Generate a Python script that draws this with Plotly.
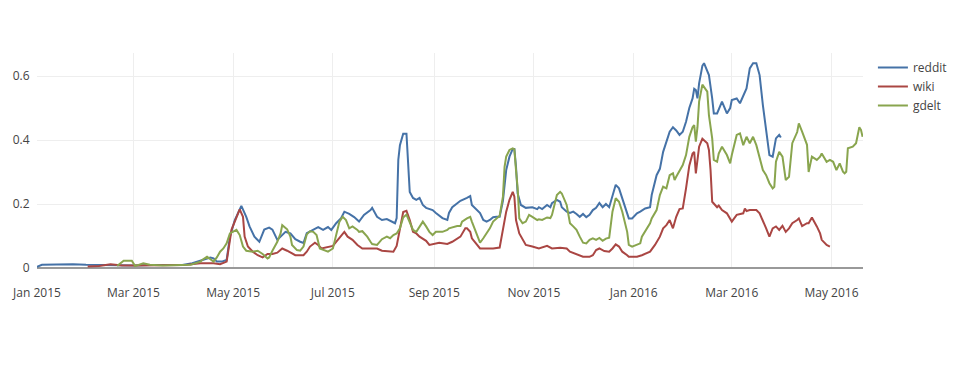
import plotly.graph_objects as go
import pandas as pd

BASE_DATE = "2015-01-01"  # day offsets below count from this date

# reddit: (days since 2015-01-01, value)
reddit = [
    (0,0.004),(3,0.010),(12,0.011),(22,0.012),(30,0.010),(40,0.009),(50,0.008),(60,0.008),
    (70,0.009),(80,0.008),(88,0.009),(95,0.015),(100,0.023),(103,0.030),(106,0.033),(108,0.030),
    (110,0.020),(113,0.020),(116,0.025),(118,0.098),(121,0.150),(125,0.194),(128,0.160),(130,0.130),
    (133,0.098),(136,0.082),(139,0.120),(142,0.126),(144,0.120),(147,0.088),(149,0.098),(152,0.113),
    (155,0.108),(158,0.090),(161,0.082),(163,0.078),(165,0.109),(169,0.119),(172,0.128),(175,0.119),
    (178,0.128),(180,0.119),(183,0.140),(186,0.156),(188,0.176),(191,0.169),(194,0.159),(197,0.145),
    (200,0.166),(204,0.181),(205,0.188),(208,0.160),(211,0.150),(214,0.153),(217,0.145),(219,0.140),
    (220,0.156),(221,0.338),(222,0.384),(224,0.420),(226,0.420),(227,0.330),(228,0.238),(230,0.219),
    (232,0.213),(234,0.219),(236,0.197),(238,0.188),(242,0.181),(244,0.172),(248,0.156),(251,0.150),
    (252,0.172),(254,0.190),(259,0.210),(263,0.219),(265,0.225),(266,0.197),(269,0.181),(271,0.172),
    (273,0.150),(275,0.145),(277,0.150),(279,0.159),(281,0.160),(283,0.160),(285,0.210),(287,0.306),
    (289,0.348),(291,0.372),(292,0.372),(293,0.316),(294,0.233),(296,0.197),(299,0.188),(303,0.190),
    (306,0.184),(307,0.190),(309,0.184),(312,0.197),(314,0.190),(315,0.203),(318,0.213),(320,0.207),
    (321,0.190),(324,0.176),(326,0.172),(328,0.176),(330,0.169),(332,0.160),(334,0.169),(336,0.159),
    (338,0.166),(340,0.181),(342,0.188),(344,0.203),(346,0.190),(348,0.200),(350,0.190),(352,0.228),
    (354,0.260),(356,0.249),(358,0.218),(361,0.176),(362,0.155),(364,0.155),(367,0.171),(369,0.176),
    (372,0.186),(375,0.190),(376,0.228),(379,0.290),(381,0.310),(383,0.363),(385,0.395),(387,0.426),
    (389,0.440),(391,0.430),(393,0.416),(395,0.426),(397,0.457),(399,0.500),(401,0.530),(402,0.560),
    (403,0.556),(404,0.530),(405,0.577),(407,0.632),(408,0.640),(410,0.612),(411,0.603),(413,0.530),
    (414,0.483),(416,0.483),(417,0.494),(419,0.520),(422,0.483),(424,0.500),(425,0.525),(428,0.530),
    (430,0.515),(432,0.540),(434,0.561),(436,0.624),(438,0.640),(440,0.640),(442,0.603),(444,0.509),
    (446,0.437),(448,0.353),(450,0.348),(452,0.405),(454,0.416),(455,0.408),
]

# wiki
wiki = [
    (31,0.005),(38,0.006),(45,0.012),(52,0.008),(60,0.008),(70,0.008),(80,0.007),(90,0.009),
    (100,0.015),(108,0.015),(112,0.012),(116,0.020),(119,0.120),(122,0.160),(124,0.183),(126,0.160),
    (127,0.098),(129,0.067),(132,0.051),(135,0.040),(138,0.033),(141,0.044),(144,0.044),(147,0.048),
    (150,0.061),(153,0.054),(155,0.048),(158,0.040),(161,0.040),(163,0.040),(165,0.051),(167,0.067),
    (170,0.079),(172,0.072),(174,0.061),(177,0.064),(181,0.069),(183,0.082),(186,0.103),(188,0.113),
    (190,0.098),(193,0.088),(196,0.072),(199,0.061),(204,0.061),(208,0.061),(211,0.054),(216,0.053),
    (218,0.051),(220,0.069),(222,0.119),(224,0.175),(226,0.179),(228,0.150),(230,0.113),(232,0.108),
    (234,0.098),(238,0.085),(240,0.072),(242,0.075),(246,0.079),(251,0.075),(254,0.082),(259,0.098),
    (262,0.124),(263,0.124),(265,0.113),(266,0.093),(269,0.072),(271,0.061),(275,0.061),(279,0.061),
    (283,0.064),(285,0.125),(287,0.176),(289,0.213),(291,0.238),(292,0.223),(293,0.150),(295,0.108),
    (297,0.088),(299,0.072),(303,0.067),(307,0.061),(312,0.069),(315,0.061),(320,0.063),(324,0.061),
    (326,0.051),(330,0.043),(334,0.035),(338,0.035),(340,0.040),(342,0.056),(344,0.061),(347,0.053),
    (350,0.051),(352,0.061),(354,0.074),(356,0.067),(358,0.051),(361,0.040),(362,0.035),(367,0.035),
    (370,0.040),(375,0.051),(378,0.072),(381,0.098),(383,0.124),(385,0.134),(387,0.150),(389,0.124),
    (391,0.160),(393,0.184),(395,0.186),(397,0.249),(399,0.320),(401,0.358),(402,0.363),(403,0.296),
    (404,0.338),(405,0.379),(407,0.404),(410,0.390),(411,0.369),(412,0.306),(413,0.207),(416,0.190),
    (417,0.195),(419,0.181),(422,0.171),(424,0.155),(425,0.145),(428,0.166),(432,0.171),(433,0.186),
    (434,0.178),(436,0.181),(440,0.181),(442,0.171),(444,0.150),(446,0.124),(448,0.098),(450,0.124),
    (452,0.130),(454,0.119),(456,0.132),(458,0.113),(460,0.124),(462,0.140),(465,0.150),(466,0.155),
    (468,0.131),(471,0.140),(472,0.140),(474,0.158),(477,0.130),(479,0.108),(480,0.088),(483,0.072),
    (485,0.067),
]

# gdelt
gdelt = [
    (49,0.006),(53,0.023),(58,0.023),(60,0.006),(65,0.015),(69,0.010),(77,0.008),(87,0.010),
    (94,0.010),(100,0.020),(101,0.025),(104,0.035),(108,0.020),(110,0.033),(112,0.051),(114,0.061),
    (116,0.077),(118,0.108),(120,0.113),(122,0.119),(124,0.103),(126,0.067),(128,0.054),(132,0.051),
    (135,0.054),(138,0.044),(141,0.030),(142,0.033),(144,0.054),(147,0.082),(149,0.108),(150,0.134),
    (153,0.121),(155,0.098),(156,0.072),(159,0.056),(161,0.054),(163,0.067),(165,0.105),(167,0.115),
    (169,0.113),(171,0.103),(173,0.061),(175,0.056),(178,0.051),(181,0.061),(183,0.108),(185,0.145),
    (187,0.160),(189,0.150),(191,0.124),(193,0.130),(196,0.119),(197,0.113),(199,0.115),(202,0.098),
    (204,0.082),(205,0.075),(208,0.072),(210,0.082),(211,0.090),(214,0.098),(216,0.093),(218,0.103),
    (220,0.108),(222,0.124),(224,0.158),(226,0.167),(228,0.140),(230,0.119),(232,0.113),(234,0.131),
    (236,0.145),(238,0.130),(240,0.113),(242,0.103),(244,0.113),(248,0.113),(251,0.119),(252,0.124),
    (254,0.127),(257,0.131),(259,0.131),(260,0.145),(263,0.155),(265,0.160),(266,0.145),(269,0.108),
    (271,0.079),(273,0.093),(275,0.108),(277,0.124),(279,0.145),(281,0.155),(283,0.163),(285,0.223),
    (286,0.316),(287,0.348),(289,0.369),(291,0.374),(292,0.371),(293,0.306),(294,0.250),(295,0.155),
    (297,0.140),(299,0.145),(301,0.166),(303,0.160),(306,0.150),(307,0.152),(309,0.150),(312,0.158),
    (314,0.156),(315,0.166),(318,0.228),(320,0.238),(321,0.233),(324,0.197),(326,0.140),(328,0.130),
    (330,0.119),(332,0.098),(334,0.079),(336,0.077),(338,0.088),(340,0.093),(342,0.088),(344,0.094),
    (346,0.085),(348,0.092),(350,0.095),(352,0.176),(354,0.218),(356,0.207),(358,0.176),(361,0.113),
    (362,0.072),(364,0.067),(367,0.072),(369,0.077),(370,0.098),(373,0.124),(375,0.140),(376,0.155),
    (379,0.181),(381,0.228),(383,0.254),(385,0.249),(387,0.290),(389,0.296),(390,0.275),(391,0.285),
    (393,0.306),(395,0.322),(397,0.353),(399,0.410),(401,0.440),(402,0.447),(403,0.395),(404,0.440),
    (405,0.520),(407,0.573),(410,0.551),(411,0.478),(413,0.405),(414,0.338),(416,0.332),(417,0.358),
    (419,0.379),(422,0.353),(424,0.327),(425,0.353),(428,0.416),(430,0.421),(432,0.384),(434,0.410),
    (436,0.390),(438,0.410),(440,0.384),(442,0.343),(444,0.306),(446,0.290),(448,0.265),(450,0.249),
    (451,0.254),(452,0.332),(454,0.363),(456,0.348),(458,0.275),(460,0.285),(462,0.390),(465,0.425),
    (466,0.452),(468,0.426),(471,0.385),(472,0.300),(474,0.348),(477,0.338),(479,0.348),(480,0.358),
    (483,0.332),(485,0.338),(487,0.332),(489,0.306),(491,0.327),(493,0.301),(494,0.296),(495,0.301),
    (496,0.374),(499,0.379),(501,0.390),(503,0.440),(504,0.432),(505,0.410),
]

series_names = ["reddit", "wiki", "gdelt"]
series_colors = ["#4572A7", "#AA4643", "#89A54E"]
x_range = ["2015-01-01", "2016-05-20 06:00"]
y_range = [0, 0.672]
y_ticks = [0, 0.2, 0.4, 0.6]
y_ticktext = ["0", "0.2", "0.4", "0.6"]

base = pd.Timestamp(BASE_DATE)


def to_xy(pairs):
    days = [p[0] for p in pairs]
    vals = [p[1] for p in pairs]
    dates = [base + pd.Timedelta(days=d) for d in days]
    return dates, vals


fig = go.Figure()
for name, color, data in zip(series_names, series_colors, [reddit, wiki, gdelt]):
    xs, ys = to_xy(data)
    fig.add_trace(go.Scatter(x=xs, y=ys, mode="lines", name=name,
                             line=dict(color=color, width=2)))

fig.update_layout(
    template="none",
    width=952, height=362,
    margin=dict(l=29, r=97, t=45, b=102, autoexpand=False),
    paper_bgcolor="white", plot_bgcolor="white",
    font=dict(family="Open Sans, sans-serif", size=12, color="#444"),
    showlegend=True,
    legend=dict(x=1.012, y=1.0, xanchor="left", yanchor="top",
                font=dict(size=12, color="#444"), bgcolor="rgba(0,0,0,0)",
                borderwidth=0),
    xaxis=dict(type="date", range=x_range, dtick="M2", tick0="2015-01-01",
               tickformat="%b %Y", showgrid=True, gridcolor="#eeeeee",
               zeroline=False, showline=False, ticks="outside", ticklen=14,
               tickcolor="rgba(0,0,0,0)", automargin=False),
    yaxis=dict(range=y_range, tickvals=y_ticks, ticktext=y_ticktext,
               showgrid=True, gridcolor="#eeeeee", zeroline=True,
               zerolinecolor="#999999", zerolinewidth=2, showline=False,
               ticks="outside", ticklen=4, tickcolor="rgba(0,0,0,0)",
               automargin=False),
)

fig.write_html("out.html")
